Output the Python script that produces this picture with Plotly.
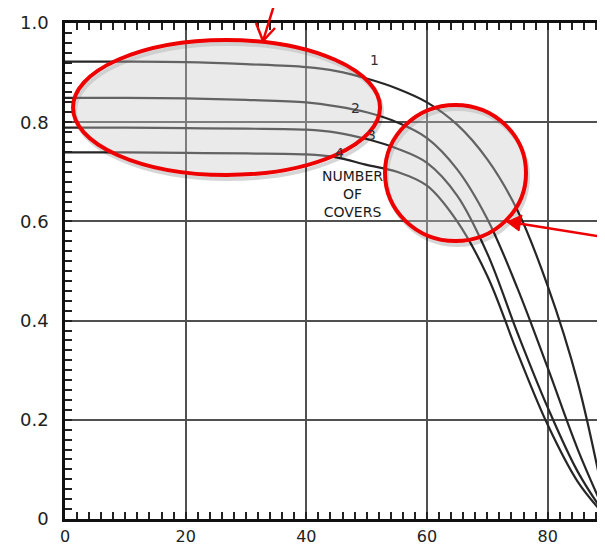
import plotly.graph_objects as go

# ---- data ----
angles = [0, 10, 20, 30, 40, 45, 50, 55, 60, 65, 70, 75, 80, 85, 90]
cover1 = [0.922, 0.922, 0.921, 0.917, 0.911, 0.903, 0.888, 0.868, 0.840, 0.795, 0.725, 0.622, 0.470, 0.275, 0.0]
cover2 = [0.849, 0.849, 0.848, 0.845, 0.840, 0.832, 0.820, 0.800, 0.768, 0.705, 0.605, 0.465, 0.305, 0.140, 0.0]
cover3 = [0.789, 0.789, 0.788, 0.787, 0.785, 0.779, 0.766, 0.747, 0.718, 0.652, 0.535, 0.375, 0.225, 0.095, 0.0]
cover4 = [0.739, 0.739, 0.738, 0.737, 0.735, 0.729, 0.714, 0.700, 0.672, 0.600, 0.490, 0.335, 0.190, 0.075, 0.0]
series = [cover1, cover2, cover3, cover4]
curve_labels = ["1", "2", "3", "4"]
x_ticks = [0, 20, 40, 60, 80]
x_tick_text = ["0", "20", "40", "60", "80"]
y_ticks = [0, 0.2, 0.4, 0.6, 0.8, 1.0]
y_tick_text = ["0", "0.2", "0.4", "0.6", "0.8", "1.0"]

W, H = 605, 547
L, R, T, B = 57, 5, 15, 36
PW, PH = W - L - R, H - T - B


def px2paper(px, py):
    return (px - L) / PW, (H - B - py) / PH


fig = go.Figure()
for ys in series:
    fig.add_trace(go.Scatter(x=angles, y=ys, mode="lines",
                             line=dict(color="#262626", width=2.2, shape="spline", smoothing=1.0),
                             hoverinfo="skip", showlegend=False))

axis_common = dict(showline=True, linecolor="#111", linewidth=2.5, mirror="ticks",
                   ticks="inside", ticklen=7, tickwidth=1.5, tickcolor="#222",
                   showgrid=True, gridcolor="#505050", gridwidth=1.5, zeroline=False,
                   automargin=False)
fig.update_xaxes(range=[0, 90], tickvals=x_ticks, ticktext=x_tick_text,
                 tickfont=dict(family="DejaVu Sans", size=16, color="#222"),
                 minor=dict(dtick=2, ticks="inside", ticklen=7, tickcolor="#222", tickwidth=1.5, showgrid=False),
                 ticklabelstandoff=1, **axis_common)
fig.update_yaxes(range=[0, 1.0], tickvals=y_ticks, ticktext=y_tick_text,
                 tickfont=dict(family="DejaVu Sans", size=18, color="#222"),
                 minor=dict(dtick=0.02, ticks="inside", ticklen=7, tickcolor="#222", tickwidth=1.5, showgrid=False),
                 ticklabelstandoff=10, **axis_common)

shapes = []
# ellipses (shadow + red outline with light gray fill)
for (x0, y0, x1, y1) in [(65, 32, 372, 167), (377, 97, 518, 233)]:
    a0, b1 = px2paper(x0, y0)
    a1, b0 = px2paper(x1, y1)
    s0, t1 = px2paper(x0 + 2, y0 + 4)
    s1, t0 = px2paper(x1 + 2, y1 + 4)
    shapes.append(dict(type="circle", xref="paper", yref="paper", x0=s0, x1=s1, y0=t0, y1=t1,
                       line=dict(color="rgba(0,0,0,0.16)", width=4)))
    shapes.append(dict(type="circle", xref="paper", yref="paper", x0=a0, x1=a1, y0=b0, y1=b1,
                       fillcolor="rgba(200,200,200,0.38)",
                       line=dict(color="#ee0000", width=4)))


def path(points, close=False):
    pts = [px2paper(*p) for p in points]
    s = "M " + " L ".join(f"{x},{y}" for x, y in pts)
    return s + (" Z" if close else "")


# arrow 1 (top, open V head)
shapes.append(dict(type="path", xref="paper", yref="paper", path=path([(267, -6), (255, 33)]),
                   line=dict(color="#ee0000", width=2.5)))
shapes.append(dict(type="path", xref="paper", yref="paper", path=path([(248, 15), (255, 33), (267, 20)]),
                   line=dict(color="#ee0000", width=2.5)))
# arrow 2 (right, filled head)
shapes.append(dict(type="path", xref="paper", yref="paper", path=path([(607, 231), (508, 215)]),
                   line=dict(color="#ee0000", width=2.5)))
shapes.append(dict(type="path", xref="paper", yref="paper",
                   path=path([(499, 214), (514, 207), (511, 223)], close=True),
                   fillcolor="#ee0000", line=dict(color="#ee0000", width=1)))

annotations = []
label_pos = [(366, 42), (347, 90), (363, 117), (331, 135)]
for txt, (lx, ly) in zip(curve_labels, label_pos):
    ax_, ay_ = px2paper(lx, ly)
    annotations.append(dict(x=ax_, y=ay_, xref="paper", yref="paper", text=txt, showarrow=False,
                            font=dict(family="DejaVu Sans", size=14, color="#333")))
ax_, ay_ = px2paper(344, 186)
annotations.append(dict(x=ax_, y=ay_, xref="paper", yref="paper", text="NUMBER<br>OF<br>COVERS",
                        showarrow=False, align="center",
                        font=dict(family="DejaVu Sans", size=14, color="#1a1a1a")))

fig.update_layout(width=W, height=H, margin=dict(l=L, r=R, t=T, b=B, autoexpand=False),
                  paper_bgcolor="white", plot_bgcolor="white",
                  shapes=shapes, annotations=annotations, showlegend=False)

fig.write_html("out.html")
